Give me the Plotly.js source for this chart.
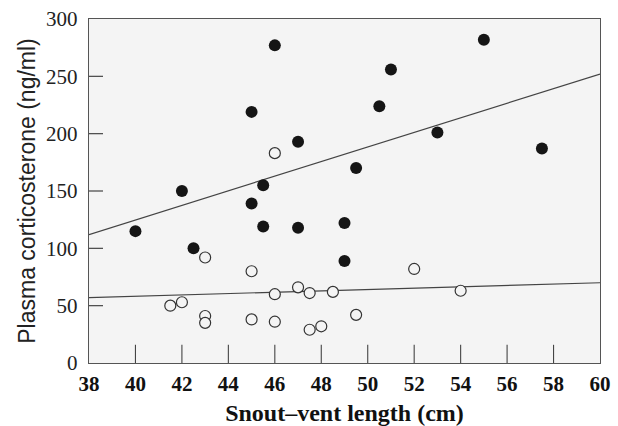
<!DOCTYPE html>
<html>
<head>
<meta charset="utf-8">
<script src="https://cdn.plot.ly/plotly-3.0.1.min.js"></script>
<style>html,body{margin:0;padding:0;background:#fff;}#chart{width:618px;height:426px;}</style>
</head>
<body>
<div id="chart"></div>
<script>
// Filled circles
const filledX = [40, 42, 42.5, 45, 45, 45.5, 45.5, 46, 47, 47, 49, 49, 49.5, 50.5, 51, 53, 55, 57.5];
const filledY = [115, 150, 100, 219, 139, 155, 119, 277, 193, 118, 122, 89, 170, 224, 256, 201, 282, 187];
// Open circles
const openX = [41.5, 42, 43, 43, 43, 45, 45, 46, 46, 46, 47, 47.5, 47.5, 48, 48.5, 49.5, 52, 54];
const openY = [50, 53, 92, 41, 35, 80, 38, 183, 60, 36, 66, 61, 29, 32, 62, 42, 82, 63];
// Fitted regression lines (end points)
const fitX = [38, 60];
const filledFit = [112, 252];
const openFit = [57, 70];
// Axis ticks
const xTicks = [38, 40, 42, 44, 46, 48, 50, 52, 54, 56, 58, 60];
const yTicks = [0, 50, 100, 150, 200, 250, 300];

const W = 618, H = 426;
const M = {l: 89, r: 18, t: 19, b: 63};
const xRange = [xTicks[0], xTicks[xTicks.length - 1]];
const yRange = [yTicks[0], yTicks[yTicks.length - 1]];
const xInner = xTicks.slice(1, -1);
const yInner = yTicks.slice(1, -1);

// inside tick length for the y axis, converted from pixels to x data units
const tickLenPx = 14;
const xPerPx = (xRange[1] - xRange[0]) / (W - M.l - M.r);
const yTickX = [], yTickY = [];
yInner.forEach(v => {
  yTickX.push(xRange[0], xRange[0] + tickLenPx * xPerPx, null);
  yTickY.push(v, v, null);
});

const lineCol = '#444';
const traces = [
  // x-axis inside ticks (outer half of each marker is clipped by the plot area)
  {x: xInner, y: xInner.map(() => yRange[0]), mode: 'markers', cliponaxis: true, hoverinfo: 'skip',
   marker: {symbol: 'line-ns', size: 26, color: '#444', line: {color: '#444', width: 1.1}}},
  // y-axis inside ticks
  {x: yTickX, y: yTickY, mode: 'lines', cliponaxis: false, line: {color: '#444', width: 1.2, simplify: false}, hoverinfo: 'skip'},
  {x: fitX, y: filledFit, mode: 'lines', line: {color: lineCol, width: 1.2}, hoverinfo: 'skip'},
  {x: fitX, y: openFit, mode: 'lines', line: {color: lineCol, width: 1.2}, hoverinfo: 'skip'},
  {x: openX, y: openY, mode: 'markers',
   marker: {symbol: 'circle', size: 11, color: '#f4f4f4', line: {color: '#333', width: 1.2}}},
  {x: filledX, y: filledY, mode: 'markers',
   marker: {symbol: 'circle', size: 12, color: '#151515', line: {width: 0}}}
];

const layout = {
  width: W, height: H,
  margin: M,
  paper_bgcolor: '#ffffff',
  plot_bgcolor: '#f4f4f4',
  showlegend: false,
  xaxis: {
    range: xRange, tickmode: 'array', tickvals: xTicks, ticktext: xTicks.map(String),
    ticks: '', ticklabelstandoff: 2,
    showline: true, mirror: true, linecolor: '#555', linewidth: 1.2,
    showgrid: false, zeroline: false,
    tickfont: {family: 'Liberation Serif', size: 21, color: '#111', weight: 'bold'},
    title: {text: '<b>Snout–vent length (cm)</b>', font: {family: 'Liberation Serif', size: 24, color: '#111'}, standoff: 12}
  },
  yaxis: {
    range: yRange, tickmode: 'array', tickvals: yTicks, ticktext: yTicks.map(String),
    ticks: '', ticklabelstandoff: 6,
    showline: true, mirror: true, linecolor: '#555', linewidth: 1.2,
    showgrid: false, zeroline: false,
    tickfont: {family: 'Liberation Serif', size: 21, color: '#222'},
    title: {text: 'Plasma corticosterone (ng/ml)', font: {family: 'Liberation Sans', size: 23, color: '#222'}, standoff: 4}
  }
};

Plotly.newPlot('chart', traces, layout, {displayModeBar: false, staticPlot: true});
</script>
</body>
</html>
